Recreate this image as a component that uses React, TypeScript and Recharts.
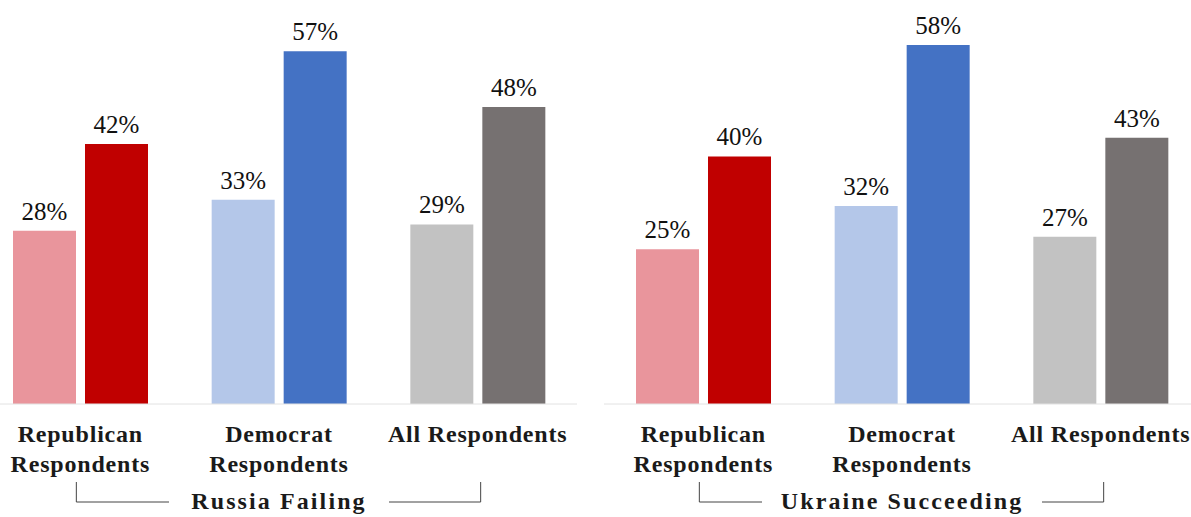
import React from 'react';
import { BarChart, Bar, XAxis, YAxis, Cell, LabelList } from 'recharts';

// Survey shares (%) per respondent group, two measures per group
const categories = ['Republican Respondents', 'Democrat Respondents', 'All Respondents'];
const categoryLines = [['Republican', 'Respondents'], ['Democrat', 'Respondents'], ['All Respondents']];

const russiaFirst = [28, 33, 29];
const russiaSecond = [42, 57, 48];
const ukraineFirst = [25, 32, 27];
const ukraineSecond = [40, 58, 43];

const panelTitles = ['Russia Failing', 'Ukraine Succeeding'];

const lightColors = ['#E9959C', '#B4C7E9', '#C2C2C2'];
const darkColors = ['#C00000', '#4472C4', '#767171'];

const PANEL_W = 596;
const CHART_H = 517;
const AXIS_H = 113;
const BAND = PANEL_W / categories.length;

const serif = 'Liberation Serif, Times New Roman, serif';
const textColor = '#1a1a1a';

type TickProps = {
  x?: number;
  y?: number;
  index?: number;
  title: string;
  titleHalf: number;
};

function CategoryTick({ x = 0, y = 0, index = 0, title, titleHalf }: TickProps) {
  const lines = categoryLines[index] || [];
  const bracketY = y + 98;
  const leftX = x - BAND - 4;
  const rightX = x + BAND + 3;
  return (
    <g>
      {lines.map((line, i) => (
        <text
          key={i}
          x={x}
          y={y + 38 + i * 29.5}
          textAnchor="middle"
          style={{ fontFamily: serif, fontWeight: 'bold', fontSize: 24, letterSpacing: 0.8 }}
          fill={textColor}
        >
          {line}
        </text>
      ))}
      {index === 1 && (
        <g>
          <polyline
            points={`${leftX},${y + 78} ${leftX},${bracketY} ${x - titleHalf},${bracketY}`}
            fill="none"
            stroke="#444"
            strokeWidth={1}
          />
          <polyline
            points={`${x + titleHalf},${bracketY} ${rightX},${bracketY} ${rightX},${y + 78}`}
            fill="none"
            stroke="#444"
            strokeWidth={1}
          />
          <text
            x={x}
            y={y + 105}
            textAnchor="middle"
            style={{ fontFamily: serif, fontWeight: 'bold', fontSize: 24, letterSpacing: 2.1 }}
            fill={textColor}
          >
            {title}
          </text>
        </g>
      )}
    </g>
  );
}

type PanelProps = {
  first: number[];
  second: number[];
  title: string;
  titleHalf: number;
  left: number;
};

function ValueLabel(props: any) {
  const { x = 0, y = 0, width = 0, value } = props;
  return (
    <text
      x={x + width / 2}
      y={y - 11}
      textAnchor="middle"
      style={{ fontFamily: serif, fontSize: 25 }}
      fill="#111"
    >
      {`${value}%`}
    </text>
  );
}

function Panel({ first, second, title, titleHalf, left }: PanelProps) {
  const data = categories.map((category, i) => ({
    category,
    first: first[i],
    second: second[i],
  }));
  return (
    <div style={{ position: 'absolute', left, top: 0 }}>
      <BarChart
        width={PANEL_W}
        height={CHART_H}
        data={data}
        margin={{ top: 32.6, right: 0, bottom: 0, left: 0 }}
        barSize={63}
        barGap={9}
      >
        <XAxis
          dataKey="category"
          interval={0}
          height={AXIS_H}
          tickLine={false}
          tickSize={0}
          tickMargin={0}
          axisLine={{ stroke: '#e2e2e2', strokeWidth: 1 }}
          tick={(props: any) => <CategoryTick {...props} title={title} titleHalf={titleHalf} />}
        />
        <YAxis hide domain={[0, 60]} />
        <Bar dataKey="first" isAnimationActive={false}>
          {data.map((_, i) => (
            <Cell key={i} fill={lightColors[i]} />
          ))}
          <LabelList dataKey="first" content={ValueLabel} />
        </Bar>
        <Bar dataKey="second" isAnimationActive={false}>
          {data.map((_, i) => (
            <Cell key={i} fill={darkColors[i]} />
          ))}
          <LabelList dataKey="second" content={ValueLabel} />
        </Bar>
      </BarChart>
    </div>
  );
}

export default function App() {
  return (
    <div
      style={{
        position: 'absolute',
        left: 0,
        top: 0,
        width: 1191,
        height: 517,
        overflow: 'hidden',
        background: '#fff',
      }}
    >
      <Panel first={russiaFirst} second={russiaSecond} title={panelTitles[0]} titleHalf={110} left={-19} />
      <Panel first={ukraineFirst} second={ukraineSecond} title={panelTitles[1]} titleHalf={140} left={604} />
    </div>
  );
}
